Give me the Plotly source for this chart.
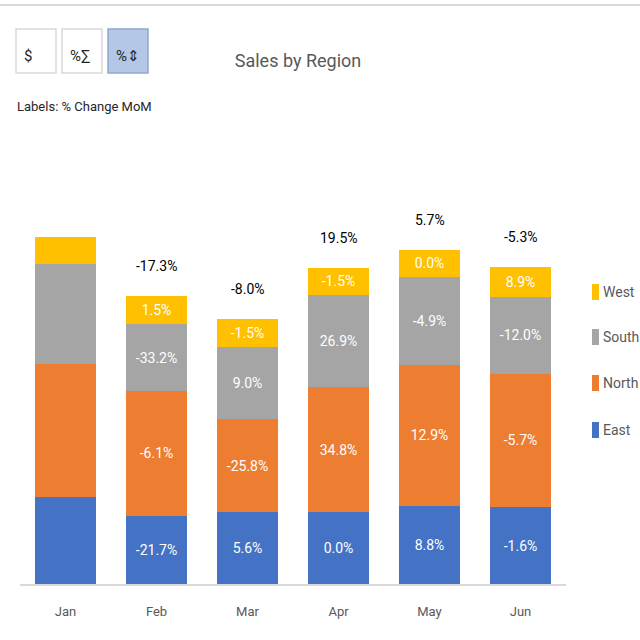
import plotly.graph_objects as go

months = ["Jan", "Feb", "Mar", "Apr", "May", "Jun"]
east = [87.0, 68.1, 71.9, 71.9, 78.2, 77.0]
north = [133.0, 124.9, 92.7, 125.0, 141.1, 133.1]
south = [100.0, 66.8, 72.8, 92.4, 87.9, 77.3]
west = [27.5, 27.9, 27.5, 27.1, 27.1, 29.5]

east_lbl = ["", "-21.7%", "5.6%", "0.0%", "8.8%", "-1.6%"]
north_lbl = ["", "-6.1%", "-25.8%", "34.8%", "12.9%", "-5.7%"]
south_lbl = ["", "-33.2%", "9.0%", "26.9%", "-4.9%", "-12.0%"]
west_lbl = ["", "1.5%", "-1.5%", "-1.5%", "0.0%", "8.9%"]
total_lbl = ["", "-17.3%", "-8.0%", "19.5%", "5.7%", "-5.3%"]

button_labels = ["$", "%∑", "%⇕"]

FONT = "Roboto, Liberation Sans, sans-serif"

series = [
    ("East", east, east_lbl, "#4472C4"),
    ("North", north, north_lbl, "#ED7D31"),
    ("South", south, south_lbl, "#A5A5A5"),
    ("West", west, west_lbl, "#FFC000"),
]

fig = go.Figure()
for name, vals, lbl, col in series:
    fig.add_trace(go.Bar(
        x=months, y=vals, name=name, marker_color=col, marker_line_width=0,
        text=lbl, textposition="inside", insidetextanchor="middle",
        textangle=0, textfont=dict(color="white", size=14, family=FONT),
        showlegend=False, hoverinfo="skip",
    ))

totals = [e + n + s + w for e, n, s, w in zip(east, north, south, west)]

W = H = 640
L, R, T, B = 20, 74, 130, 56
PW, PH = W - L - R, H - T - B


def px(x):
    return (x - L) / PW


def py(y):
    return (H - B - y) / PH


annotations = []
for m, t, lab in zip(months, totals, total_lbl):
    if lab:
        annotations.append(dict(x=m, y=t, text=lab, showarrow=False, yshift=30,
                                yanchor="middle", font=dict(size=14, color="#000000", family=FONT)))

shapes = [dict(type="line", xref="paper", yref="paper", x0=px(0), x1=px(640), y0=py(5), y1=py(5),
               line=dict(color="#D9D9D9", width=2))]
box_x = [16, 62, 108]
for i, (bx, lab) in enumerate(zip(box_x, button_labels)):
    active = i == 2
    shapes.append(dict(type="rect", xref="paper", yref="paper",
                       x0=px(bx), x1=px(bx + 40), y0=py(73), y1=py(29),
                       fillcolor="#B4C7E7" if active else "white",
                       line=dict(color="#8EA9C8" if active else "#D9D9D9", width=1.5)))
    annotations.append(dict(xref="paper", yref="paper", x=px(bx + 6), y=py(56), text=lab,
                            showarrow=False, xanchor="left", yanchor="middle",
                            font=dict(size=15, color="#262626", family=FONT)))

annotations.append(dict(xref="paper", yref="paper", x=px(15), y=py(106), text="Labels: % Change MoM",
                        showarrow=False, xanchor="left", yanchor="middle",
                        font=dict(size=13, color="#262626", family=FONT)))

# legend (top to bottom: West, South, North, East)
legend_y = [292, 337, 383, 430]
for (name, vals, lbl, col), ly in zip(reversed(series), legend_y):
    shapes.append(dict(type="rect", xref="paper", yref="paper",
                       x0=px(592), x1=px(599), y0=py(ly + 8), y1=py(ly - 8),
                       fillcolor=col, line=dict(width=0)))
    annotations.append(dict(xref="paper", yref="paper", x=px(601), y=py(ly), text=name,
                            showarrow=False, xanchor="left", yanchor="middle",
                            font=dict(size=14, color="#595959", family=FONT)))

fig.update_layout(
    width=W, height=H,
    margin=dict(l=L, r=R, t=T, b=B, autoexpand=False),
    barmode="stack", bargap=0.34,
    paper_bgcolor="white", plot_bgcolor="white",
    title=dict(text="Sales by Region", x=298 / W, y=1 - 61 / H, xanchor="center", yanchor="middle",
               font=dict(size=18, color="#595959", family=FONT)),
    xaxis=dict(showline=True, linecolor="#D9D9D9", linewidth=2, showgrid=False, zeroline=False,
               ticks="outside", ticklen=14, tickcolor="rgba(0,0,0,0)",
               tickfont=dict(size=13, color="#595959", family=FONT)),
    yaxis=dict(range=[0, PH], visible=False),
    showlegend=False,
    annotations=annotations, shapes=shapes,
    uniformtext=dict(minsize=10, mode="show"),
)

fig.write_html("out.html", config={"displayModeBar": False},
               post_script="document.body.style.margin='0px';")
